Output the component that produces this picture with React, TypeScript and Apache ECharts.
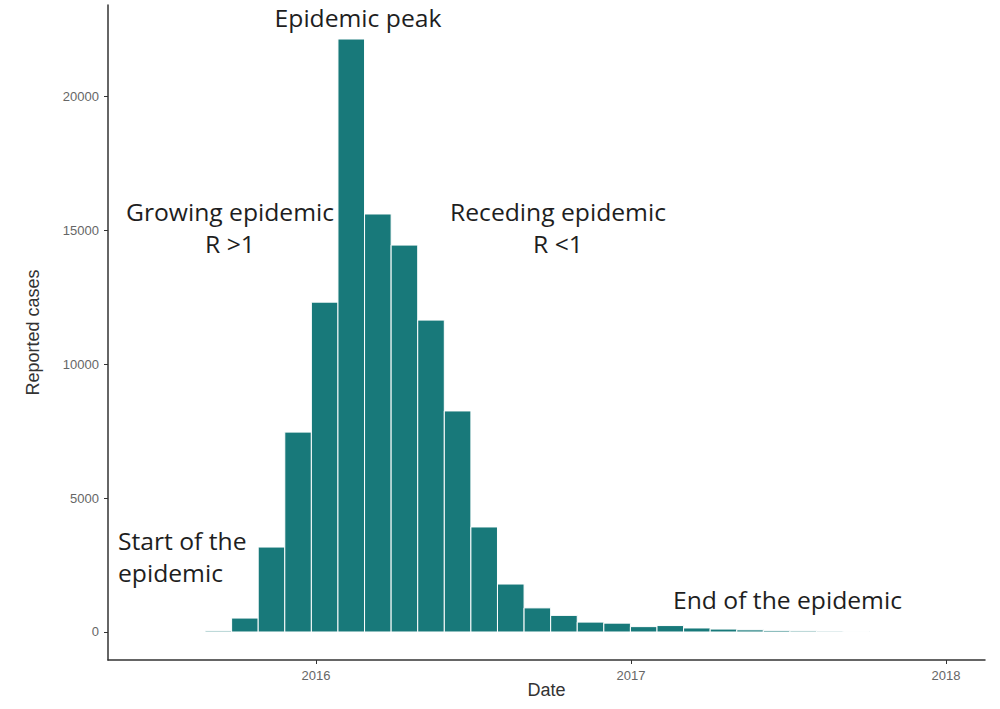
import React, { useEffect, useRef } from "react";
import * as echarts from "echarts";

// Monthly-ish reported case counts (histogram bins)
const binStartYear = 2015.648;
const binWidthYears = 0.0844;
const cases = [
  40, 520, 3170, 7460, 12310, 22130, 15600, 14440, 11640, 8250, 3920, 1790, 900,
  620, 370, 330, 200, 240, 150, 110, 80, 60, 40, 30, 20,
];
const yTicks = [0, 5000, 10000, 15000, 20000];
const xTicks = [2016, 2017, 2018];

const annotations = [
  { text: "Epidemic peak", x: 358, y: 18, align: "center" },
  { text: "Growing epidemic\nR >1", x: 230, y: 228, align: "center" },
  { text: "Receding epidemic\nR <1", x: 558, y: 228, align: "center" },
  { text: "Start of the\nepidemic", x: 118, y: 557, align: "left" },
  { text: "End of the epidemic", x: 673, y: 600, align: "left" },
];

export default function App() {
  const ref = useRef<HTMLDivElement>(null);
  useEffect(() => {
    if (!ref.current) return;
    const chart = echarts.init(ref.current, undefined, { renderer: "svg" });
    const data = cases.map((v, i) => [
      binStartYear + i * binWidthYears,
      binStartYear + (i + 1) * binWidthYears,
      v,
    ]);
    const axisFont = { fontFamily: "Liberation Sans", fontSize: 13, color: "#666" };
    chart.setOption({
      animation: false,
      backgroundColor: "#ffffff",
      grid: { left: 108, right: 15, top: 5, bottom: 49 },
      xAxis: {
        type: "value",
        min: 2015.34,
        max: 2018.124,
        name: "Date",
        nameLocation: "middle",
        nameGap: 21,
        nameMoveOverlap: false,
        nameTextStyle: { fontFamily: "Liberation Sans", fontSize: 18, color: "#333" },
        axisLine: { show: true, onZero: false, lineStyle: { color: "#333", width: 1.5 } },
        axisTick: { show: true, length: 4, customValues: xTicks, lineStyle: { color: "#333" } },
        axisLabel: {
          ...axisFont,
          margin: 9,
          customValues: xTicks,
          formatter: (v: number) => String(Math.round(v)),
        },
        splitLine: { show: false },
      },
      yAxis: {
        type: "value",
        min: -1045,
        max: 23400,
        name: "Reported cases",
        nameLocation: "middle",
        nameGap: 66,
        nameTextStyle: { fontFamily: "Liberation Sans", fontSize: 18, color: "#333" },
        axisLine: { show: true, onZero: false, lineStyle: { color: "#333", width: 1.5 } },
        axisTick: { show: true, length: 4, customValues: yTicks, lineStyle: { color: "#333" } },
        axisLabel: {
          ...axisFont,
          margin: 9,
          customValues: yTicks,
          formatter: (v: number) => String(v),
        },
        splitLine: { show: false },
      },
      series: [
        {
          type: "custom",
          data,
          encode: { x: [0, 1], y: 2 },
          renderItem: (params: any, api: any) => {
            const p0 = api.coord([api.value(0), api.value(2)]);
            const p1 = api.coord([api.value(1), 0]);
            return {
              type: "rect",
              shape: { x: p0[0], y: p0[1], width: p1[0] - p0[0], height: p1[1] - p0[1] },
              style: { fill: "#18797a", stroke: "#ffffff", lineWidth: 1 },
            };
          },
        },
      ],
      graphic: annotations.map((a) => ({
        type: "text",
        x: a.x,
        y: a.y,
        scaleX: 1.05,
        style: {
          text: a.text,
          fontFamily: "Open Sans",
          fontSize: 23.5,
          lineHeight: 32,
          fill: "#1e1e1e",
          align: a.align,
          verticalAlign: "middle",
        },
      })),
    });
    return () => chart.dispose();
  }, []);
  return (
    <div
      ref={ref}
      style={{ position: "fixed", left: 0, top: 0, width: 1000, height: 709 }}
    />
  );
}
